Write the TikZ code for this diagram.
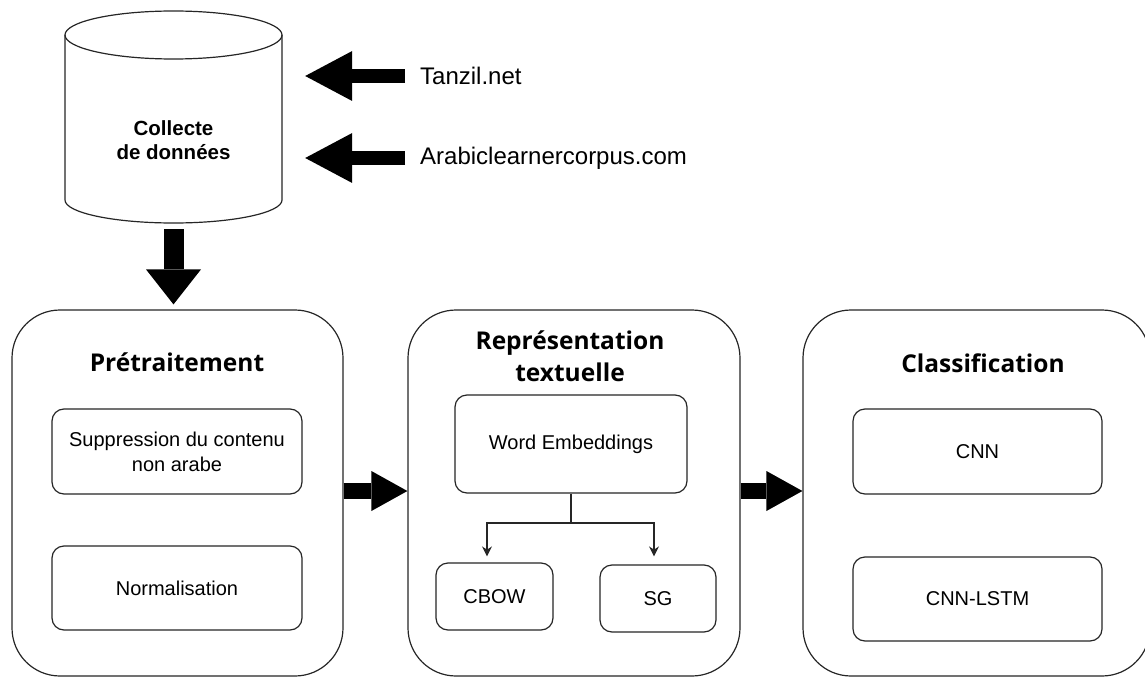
\documentclass[tikz,border=0pt]{standalone}
\usepackage{fontspec}
\setmainfont{Liberation Sans}
\newfontfamily\titlefont{Open Sans}
\usetikzlibrary{arrows.meta,calc}
\tikzset{
  edge/.style={draw=black!85, line width=1.2pt},
  bigbox/.style={edge, rounded corners=48pt, inner sep=0pt, fill=white},
  smallbox/.style={edge, rounded corners=12pt, inner sep=0pt, fill=white,
    font=\fontsize{20}{25}\selectfont, align=center},
  titletext/.style={font=\titlefont\bfseries\fontsize{24.5}{32}\selectfont, align=center, inner sep=0pt},
  srctext/.style={font=\fontsize{24}{28}\selectfont, anchor=west, inner sep=0pt},
  fatdown/.style={line width=20pt, -{Triangle[length=35pt,width=55pt,line width=0pt]}},
  fatleft/.style={line width=14pt, -{Triangle[length=47pt,width=50pt,line width=0pt]}},
  fatright/.style={line width=16pt, -{Triangle[length=36pt,width=40pt,line width=0pt]}},
  thin/.style={draw=black!85, line width=1.2pt},
}
\begin{document}
\begin{tikzpicture}[x=1pt,y=-1pt]
\useasboundingbox (0,0) rectangle (1145,679);
% database cylinder
\node[minimum width=217pt, minimum height=212pt, inner sep=0pt] (db) at (173.5,117) {};
\fill[white] (65,35) -- (65,200) arc[start angle=180,end angle=360,x radius=108.5,y radius=-23] -- (282,35) -- cycle;
\draw[edge] (65,35) -- (65,200) arc[start angle=180,end angle=360,x radius=108.5,y radius=-23] -- (282,35);
\draw[edge] (173.5,35) ellipse[x radius=108.5, y radius=24];
\node[font=\bfseries\fontsize{20.5}{24}\selectfont, align=center, inner sep=0pt] (dblabel) at (173.5,140) {Collecte\\de données};
% sources
\node[srctext] (tanzil) at (420,76) {Tanzil.net};
\node[srctext] (arab) at (420,158) {Arabiclearnercorpus.com};
\draw[fatleft, shorten <=15pt, shorten >=23pt] (tanzil.west) -- (db.east |- tanzil.west);
\draw[fatleft, shorten <=15pt, shorten >=23pt] (arab.west) -- (db.east |- arab.west);
% big boxes
\node[bigbox, minimum width=331pt, minimum height=366pt] (pre) at (177.5,493) {};
\node[bigbox, minimum width=332pt, minimum height=366pt] (rep) at (574,493) {};
\node[bigbox, minimum width=347pt, minimum height=366pt] (cls) at (976.5,493) {};
% titles
\node[titletext] (pretitle) at (177,362) {Prétraitement};
\node[titletext] (reptitle) at (570,356) {Représentation\\textuelle};
\node[titletext] (clstitle) at (983,363) {Classification};
% inner boxes
\node[smallbox, minimum width=250pt, minimum height=85pt] (supp) at (177,451.5) {Suppression du contenu\\non arabe};
\node[smallbox, minimum width=250pt, minimum height=84pt] (norm) at (177,588) {Normalisation};
\node[smallbox, minimum width=232pt, minimum height=98pt] (we) at (571,444) {Word Embeddings};
\node[smallbox, minimum width=117pt, minimum height=67pt] (cbow) at (494.5,596.5) {CBOW};
\node[smallbox, minimum width=116pt, minimum height=67pt] (sg) at (658,598.5) {SG};
\node[smallbox, minimum width=249pt, minimum height=85pt] (cnn) at (977.5,451.5) {CNN};
\node[smallbox, minimum width=249pt, minimum height=84pt] (lstm) at (977.5,599) {CNN-LSTM};
% connectors in representation
\coordinate (split) at (571,523);
\draw[thin] (we.south) -- (split);
\draw[thin, -{Stealth[length=10pt,width=10pt]}, shorten >=6pt] (split) -| ([xshift=-7.5pt]cbow.north);
\draw[thin, -{Stealth[length=10pt,width=10pt]}, shorten >=8pt] (split) -| ([xshift=-4pt]sg.north);
% fat arrows
\draw[fatdown, shorten <=6pt, shorten >=5pt] (db.south) -- (pre.north -| db.south);
\draw[fatright] (pre.east |- 0,491) -- (rep.west |- 0,491);
\draw[fatright] (rep.east |- 0,491) -- (cls.west |- 0,491);
\end{tikzpicture}
\end{document}
